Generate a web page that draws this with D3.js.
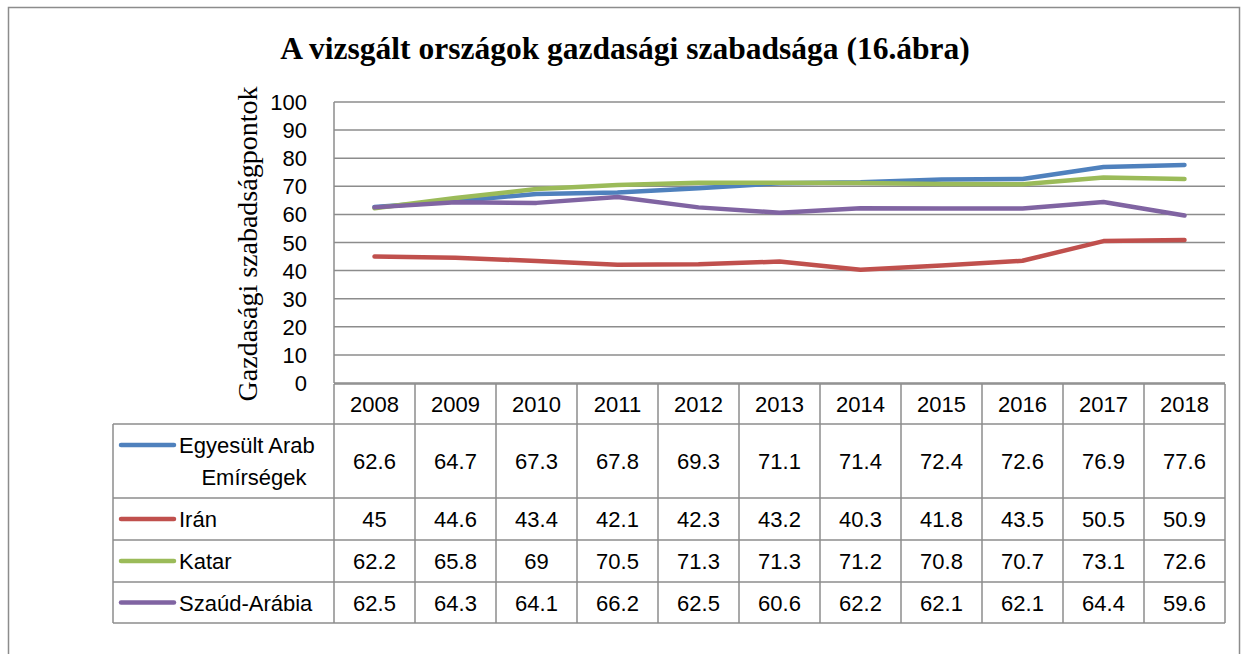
<!DOCTYPE html>
<html><head><meta charset="utf-8">
<script src="https://cdn.jsdelivr.net/npm/d3@7"></script>
<style>body{margin:0;background:#fff}svg{display:block}</style>
</head><body>
<script>
const years = ["2008","2009","2010","2011","2012","2013","2014","2015","2016","2017","2018"];
const seriesNames = [["Egyesült Arab","Emírségek"],["Irán"],["Katar"],["Szaúd-Arábia"]];
const uae = [62.6,64.7,67.3,67.8,69.3,71.1,71.4,72.4,72.6,76.9,77.6];
const iran = [45,44.6,43.4,42.1,42.3,43.2,40.3,41.8,43.5,50.5,50.9];
const qatar = [62.2,65.8,69,70.5,71.3,71.3,71.2,70.8,70.7,73.1,72.6];
const saudi = [62.5,64.3,64.1,66.2,62.5,60.6,62.2,62.1,62.1,64.4,59.6];
const colors = ["#4F81BD","#C0504D","#9BBB59","#8064A2"];
const yTicks = [0,10,20,30,40,50,60,70,80,90,100];
const title = "A vizsgált országok gazdasági szabadsága (16.ábra)";
const yLabel = "Gazdasági szabadságpontok";

const W=1244,H=654;
const svg=d3.select("body").append("svg").attr("width",W).attr("height",H);
svg.append("rect").attr("x",8.5).attr("y",7.5).attr("width",1231).attr("height",660)
  .attr("fill","#fff").attr("stroke","#8c8c8c").attr("stroke-width",1.5);

const L=334,R=1225,T=102,B=383;
const x=d3.scaleBand().domain(years).range([L,R]);
const y=d3.scaleLinear().domain([0,100]).range([B,T]);
const grid="#8c8c8c";

svg.append("text").attr("x",625).attr("y",59).attr("text-anchor","middle")
  .attr("font-family","Liberation Serif").attr("font-weight","bold").attr("font-size",31.5).text(title);

// gridlines
svg.append("g").selectAll("line").data(yTicks).join("line")
  .attr("x1",L).attr("x2",R).attr("y1",d=>y(d)).attr("y2",d=>y(d))
  .attr("stroke",grid).attr("stroke-width",1.5);
svg.append("line").attr("x1",L).attr("x2",L).attr("y1",T).attr("y2",B).attr("stroke",grid).attr("stroke-width",1.5);

// y axis labels
svg.append("g").selectAll("text").data(yTicks).join("text")
  .attr("x",307).attr("y",d=>y(d)+8).attr("text-anchor","end")
  .attr("font-family","Liberation Sans").attr("font-size",22).text(d=>d);

svg.append("text").attr("transform","translate(257,244) rotate(-90)").attr("text-anchor","middle")
  .attr("font-family","Liberation Serif").attr("font-size",28).text(yLabel);

// lines
const data=[uae,iran,qatar,saudi];
const line=d3.line().x((d,i)=>x(years[i])+x.bandwidth()/2).y(d=>y(d));
const drawOrder=[1,0,2,3];
drawOrder.forEach(k=>{
  svg.append("path").datum(data[k]).attr("d",line).attr("fill","none")
    .attr("stroke",colors[k]).attr("stroke-width",4.5).attr("stroke-linecap","round").attr("stroke-linejoin","round");
});

// table
const rowY=[384,424,498,540,582,623];
const tl=113;
const tg=svg.append("g").attr("stroke",grid).attr("stroke-width",1.5);
tg.append("line").attr("x1",L).attr("x2",R).attr("y1",rowY[0]).attr("y2",rowY[0]);
for(let r=1;r<rowY.length;r++){
  tg.append("line").attr("x1",tl).attr("x2",R).attr("y1",rowY[r]).attr("y2",rowY[r]);
}
const xs=years.map(d=>x(d)).concat([R]);
xs.forEach(v=>tg.append("line").attr("x1",v).attr("x2",v).attr("y1",rowY[0]).attr("y2",rowY[5]));
tg.append("line").attr("x1",tl).attr("x2",tl).attr("y1",rowY[1]).attr("y2",rowY[5]);

const tf={"font-family":"Liberation Sans","font-size":22};
svg.append("g").selectAll("text").data(years).join("text")
  .attr("x",d=>x(d)+x.bandwidth()/2).attr("y",(rowY[0]+rowY[1])/2+8).attr("text-anchor","middle")
  .attr("font-family",tf["font-family"]).attr("font-size",tf["font-size"]).text(d=>d);

data.forEach((vals,k)=>{
  const cy=(rowY[k+1]+rowY[k+2])/2;
  svg.append("g").selectAll("text").data(vals).join("text")
    .attr("x",(d,i)=>x(years[i])+x.bandwidth()/2).attr("y",cy+8).attr("text-anchor","middle")
    .attr("font-family",tf["font-family"]).attr("font-size",tf["font-size"]).text(d=>d);
  const names=seriesNames[k];
  const ly = names.length>1 ? rowY[k+1]+21 : cy;
  svg.append("line").attr("x1",121).attr("x2",174).attr("y1",ly).attr("y2",ly)
    .attr("stroke",colors[k]).attr("stroke-width",4.5).attr("stroke-linecap","round");
  if(names.length>1){
    svg.append("text").attr("x",179).attr("y",ly+8).attr("font-family",tf["font-family"]).attr("font-size",tf["font-size"]).text(names[0]);
    svg.append("text").attr("x",254).attr("y",ly+40).attr("text-anchor","middle").attr("font-family",tf["font-family"]).attr("font-size",tf["font-size"]).text(names[1]);
  } else {
    svg.append("text").attr("x",179).attr("y",ly+8).attr("font-family",tf["font-family"]).attr("font-size",tf["font-size"]).text(names[0]);
  }
});
</script>
</body></html>
